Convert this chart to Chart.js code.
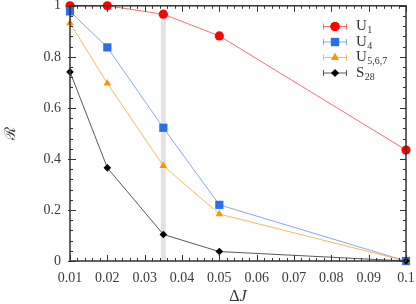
<!DOCTYPE html>
<html>
<head>
<meta charset="utf-8">
<script src="https://cdn.jsdelivr.net/npm/chart.js@4"></script>
<style>
  html, body { margin: 0; padding: 0; background: #fff; }
  #wrap { width: 416px; height: 304px; }
</style>
</head>
<body>
<div id="wrap"><canvas id="rChart" width="416" height="304"></canvas></div>
<script>
const deltaJ = [0.01, 0.02, 0.035, 0.05, 0.1];
const u1 = [1.0, 1.0, 0.967, 0.882, 0.435];
const u4 = [0.978, 0.837, 0.522, 0.220, 0.0];
const u567 = [0.932, 0.696, 0.373, 0.184, 0.0];
const s28 = [0.741, 0.365, 0.104, 0.037, 0.0];
const bandX = 0.035;
const bandTop = 0.967;
const xTicks = [0.01, 0.02, 0.03, 0.04, 0.05, 0.06, 0.07, 0.08, 0.09, 0.1];
const yTicks = [0, 0.2, 0.4, 0.6, 0.8, 1];

const serif = '"Liberation Serif", "DejaVu Serif", serif';

function pts(ys) {
    return deltaJ.map((x, i) => ({ x: x, y: ys[i] }));
}

const series = [
    { name: 'U', sub: '1', data: u1, line: 'rgba(255,60,60,0.75)', fill: '#ff0000', style: 'circle', r: 4.6, order: 3 },
    { name: 'U', sub: '4', data: u4, line: 'rgba(90,140,240,0.75)', fill: '#2b6ee8', style: 'rect', r: 5.8, order: 2 },
    { name: 'U', sub: '5,6,7', data: u567, line: 'rgba(255,165,50,0.8)', fill: '#ff9400', style: 'triangle', r: 4.4, order: 1 },
    { name: 'S', sub: '28', data: s28, line: 'rgba(60,60,60,0.85)', fill: '#000000', style: 'rectRot', r: 3.8, order: 0 }
];

const datasets = series.map(s => ({
    label: s.name + s.sub,
    data: pts(s.data),
    showLine: true,
    borderColor: s.line,
    borderWidth: 1,
    backgroundColor: s.fill,
    pointBackgroundColor: s.fill,
    pointBorderColor: s.fill,
    pointBorderWidth: 0,
    pointStyle: s.style,
    pointRadius: s.r,
    pointHoverRadius: s.r,
    clip: false,
    order: s.order
}));

datasets.push({
    label: 'band',
    data: [{ x: bandX, y: 0 }, { x: bandX, y: bandTop }],
    showLine: true,
    borderColor: '#e3e3e3',
    borderWidth: 5,
    pointRadius: 0,
    clip: false,
    order: 10
});

// frame, inward ticks, titles and legend
const decor = {
    id: 'decor',
    afterDatasetsDraw(chart) {
        const ctx = chart.ctx;
        const a = chart.chartArea;
        const xs = chart.scales.x, ys = chart.scales.y;
        ctx.save();
        ctx.strokeStyle = '#333';
        ctx.lineWidth = 1;
        ctx.beginPath();
        for (let v = 0.01; v <= 0.1001; v += 0.002) {
            const px = Math.round(xs.getPixelForValue(v)) + 0.5;
            const major = Math.abs(v * 100 - Math.round(v * 100)) < 1e-6;
            const len = major ? 6 : 3;
            ctx.moveTo(px, a.bottom); ctx.lineTo(px, a.bottom - len);
            ctx.moveTo(px, a.top); ctx.lineTo(px, a.top + len);
        }
        for (let v = 0; v <= 1.0001; v += 0.04) {
            const py = Math.round(ys.getPixelForValue(v)) + 0.5;
            const major = Math.abs(v * 5 - Math.round(v * 5)) < 1e-6;
            const len = major ? 6 : 3;
            ctx.moveTo(a.left - (major ? 2 : 0), py); ctx.lineTo(a.left + len, py);
            ctx.moveTo(a.right, py); ctx.lineTo(a.right - len, py);
        }
        ctx.stroke();
        ctx.lineWidth = 1.5;
        ctx.strokeRect(a.left, a.top, a.right - a.left, a.bottom - a.top);

        // axis titles
        ctx.fillStyle = '#333';
        ctx.textAlign = 'center';
        ctx.textBaseline = 'middle';
        ctx.font = '16px ' + serif;
        const cx = (a.left + a.right) / 2;
        const dw = ctx.measureText('Δ').width;
        ctx.font = 'italic 16px ' + serif;
        const jw = ctx.measureText('J').width;
        ctx.textAlign = 'left';
        ctx.font = '16px ' + serif;
        ctx.fillText('Δ', cx - (dw + jw) / 2, 297);
        ctx.font = 'italic 16px ' + serif;
        ctx.fillText('J', cx - (dw + jw) / 2 + dw, 297);
        ctx.save();
        ctx.translate(11, (a.top + a.bottom) / 2);
        ctx.rotate(-Math.PI / 2);
        ctx.textAlign = 'center';
        ctx.font = '15px "DejaVu Serif", serif';
        ctx.fillText('ℛ', 0, 0);
        ctx.restore();

        // legend
        const rows = [26.5, 42, 57.5, 73];
        series.forEach((s, i) => {
            const y = rows[i];
            ctx.strokeStyle = s.line;
            ctx.lineWidth = 1;
            ctx.beginPath();
            ctx.moveTo(323, y); ctx.lineTo(347, y);
            ctx.moveTo(323.5, y - 3); ctx.lineTo(323.5, y + 3);
            ctx.moveTo(346.5, y - 3); ctx.lineTo(346.5, y + 3);
            ctx.stroke();
            ctx.fillStyle = s.fill;
            Chart.helpers.drawPoint(ctx, { pointStyle: s.style, radius: s.r, rotation: 0, borderWidth: 0 }, 335, y);
            ctx.fill();
            ctx.fillStyle = '#333';
            ctx.textAlign = 'left';
            ctx.textBaseline = 'middle';
            ctx.font = '15px ' + serif;
            ctx.fillText(s.name, 356, y);
            const w = ctx.measureText(s.name).width;
            ctx.font = '10px ' + serif;
            ctx.fillText(s.sub, 356 + w + 0.5, y + 4);
        });
        ctx.restore();
    }
};

const chart = new Chart(document.getElementById('rChart').getContext('2d'), {
    type: 'scatter',
    data: { datasets: datasets },
    options: {
        responsive: false,
        animation: false,
        events: [],
        layout: { padding: { top: 5, right: 10, left: 0, bottom: 0 } },
        plugins: { legend: { display: false }, tooltip: { enabled: false } },
        scales: {
            x: {
                type: 'linear',
                min: 0.01,
                max: 0.1,
                afterBuildTicks: s => { s.ticks = xTicks.map(v => ({ value: v })); },
                afterFit: s => { s.height = 43; s.paddingLeft = 0; s.paddingRight = 0; },
                grid: { display: false, drawTicks: false },
                border: { display: false },
                ticks: {
                    padding: 9,
                    color: '#3a3a3a',
                    font: { family: serif, size: 14 },
                    maxRotation: 0,
                    autoSkip: false,
                    callback: v => String(Math.round(v * 100) / 100)
                }
            },
            y: {
                type: 'linear',
                min: 0,
                max: 1,
                afterBuildTicks: s => { s.ticks = yTicks.map(v => ({ value: v })); },
                afterFit: s => { s.width = 70; s.paddingTop = 0; s.paddingBottom = 0; },
                grid: { display: false, drawTicks: false },
                border: { display: false },
                ticks: {
                    padding: 9,
                    color: '#3a3a3a',
                    font: { family: serif, size: 14 },
                    autoSkip: false,
                    callback: v => String(Math.round(v * 10) / 10)
                }
            }
        }
    },
    plugins: [decor]
});
</script>
</body>
</html>
